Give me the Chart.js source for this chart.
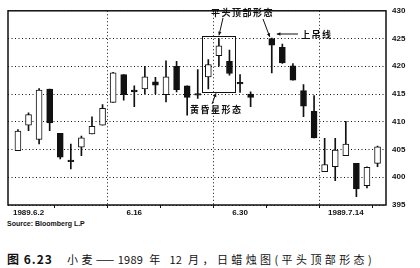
<!DOCTYPE html>
<html>
<head>
<meta charset="utf-8">
<title>小麦 1989年12月 日蜡烛图</title>
<script src="https://cdn.jsdelivr.net/npm/chart.js@4.4.0/dist/chart.umd.min.js"></script>
<style>
    body { margin: 0; background: #fff; width: 420px; height: 268px; overflow: hidden; position: relative; }
    .box { position: absolute; left: 0; top: 0; width: 420px; height: 216px; }
    .source { position: absolute; left: 7px; top: 220px; font: bold 7px "Liberation Sans", Arial, sans-serif; color: #111; }
    .fig { position: absolute; left: 7px; top: 250px; font: bold 12px "Noto Sans CJK SC", sans-serif; color: #111; letter-spacing: 1px; white-space: nowrap; }
    .caption { position: absolute; left: 67px; top: 251px; font: 11px "Noto Sans CJK SC", sans-serif; color: #111; letter-spacing: 3.4px; white-space: nowrap; }
    .caption span { letter-spacing: 0.3px; }
</style>
</head>
<body>
<div class="box"><canvas id="myChart" width="420" height="216"></canvas></div>
<div class="source">Source: Bloomberg L.P</div>
<div class="fig">图 6.23</div>
<div class="caption">小麦——<span>1989</span> 年 <span>12</span> 月，日蜡烛图(平头顶部形态)</div>
<script>
    // trading days, 7.4 is an empty slot (holiday)
    var dates = ['6.1','6.2','6.5','6.6','6.7','6.8','6.9','6.12','6.13','6.14','6.15','6.16',
        '6.19','6.20','6.21','6.22','6.23','6.26','6.27','6.28','6.29','6.30',
        '7.3','7.4','7.5','7.6','7.7','7.10','7.11','7.12','7.13','7.14','7.17','7.18','7.19'];
    var open  = [404.8,409.4,406.8,415.9,407.9,403.1,405.4,407.8,409.4,413.5,418.5,415.7,
        415.9,417.2,414.9,420.0,416.5,415.1,418.1,421.9,420.9,417.1,
        415.0,null,425.0,423.4,420.1,415.6,411.9,401.0,401.9,403.9,402.5,398.5,402.5];
    var high  = [408.6,411.6,416.0,415.9,407.9,406.0,407.4,410.9,413.1,418.9,418.5,416.5,
        420.0,418.0,421.0,420.9,416.5,419.4,421.2,425.0,422.9,418.5,
        415.4,null,425.1,424.0,420.5,416.7,414.7,407.0,407.0,410.1,402.5,401.9,405.6];
    var low   = [404.8,408.4,406.0,408.4,403.3,401.5,403.9,407.8,409.4,413.5,413.9,412.7,
        415.0,415.0,413.6,415.4,411.2,414.2,415.9,420.0,418.4,415.3,
        412.7,null,418.8,420.5,417.5,410.9,407.1,401.0,399.4,403.9,396.5,398.1,401.9];
    var close = [408.3,411.3,415.7,409.8,403.6,402.8,407.1,409.2,412.4,418.8,414.9,415.4,
        418.1,416.6,418.1,415.8,414.4,414.8,420.3,423.7,418.7,416.8,
        414.4,null,423.8,420.6,417.5,412.8,407.1,402.3,404.9,406.0,397.9,401.8,405.5];

    var tickDates = ['6.2','6.16','6.30','7.14'];
    var tickText = ['1989.6.2','6.16','6.30','1989.7.14'];
    var yTicks = [395, 400, 405, 410, 415, 420, 425, 430];

    var bodies = [], wicks = [], up = [];
    for (var i = 0; i < dates.length; i++) {
        if (open[i] === null) continue;
        bodies.push({x: i, y: [open[i], close[i]]});
        wicks.push({x: i, y: [low[i], high[i]]});
        up.push(close[i] >= open[i]);
    }

    var labelAt = {};
    tickDates.forEach(function (d, k) { labelAt[dates.indexOf(d)] = tickText[k]; });
    var minorTicks = [];
    for (var t = dates.indexOf('6.2'); t < dates.length; t += 5) minorTicks.push(t);

    var black = '#111';

    var notes = {
        id: 'notes',
        afterDraw: function (chart) {
            var ctx = chart.ctx, a = chart.chartArea;
            var xs = chart.scales.x, ys = chart.scales.y;
            ctx.save();
            // frame
            ctx.strokeStyle = black;
            ctx.lineWidth = 1.5;
            ctx.strokeRect(a.left, a.top, a.right - a.left, a.bottom - a.top);

            // box round the evening star
            var bx1 = xs.getPixelForValue(17.45), bx2 = xs.getPixelForValue(20.6);
            var by1 = ys.getPixelForValue(425.4), by2 = ys.getPixelForValue(415.3);
            ctx.lineWidth = 1;
            ctx.strokeRect(Math.round(bx1) + 0.5, Math.round(by1) + 0.5, Math.round(bx2 - bx1), Math.round(by2 - by1));

            function arrow(x1, y1, x2, y2) {
                ctx.beginPath();
                ctx.moveTo(x1, y1);
                ctx.lineTo(x2, y2);
                ctx.stroke();
                var ang = Math.atan2(y2 - y1, x2 - x1);
                ctx.beginPath();
                ctx.moveTo(x2, y2);
                ctx.lineTo(x2 - 4 * Math.cos(ang - 0.45), y2 - 4 * Math.sin(ang - 0.45));
                ctx.lineTo(x2 - 4 * Math.cos(ang + 0.45), y2 - 4 * Math.sin(ang + 0.45));
                ctx.closePath();
                ctx.fill();
            }

            ctx.fillStyle = black;
            ctx.font = 'bold 9px "Noto Sans CJK SC"';
            ctx.letterSpacing = '1.5px';
            ctx.textBaseline = 'middle';
            ctx.textAlign = 'left';
            ctx.fillText('平头顶部形态', 211, 13);
            ctx.fillText('上吊线', 301, 35);
            ctx.fillText('黄昏星形态', 190, 110);

            var hx = xs.getPixelForValue(24);
            arrow(223, 18, 219, by1 - 1);
            arrow(263, 19, hx - 2, ys.getPixelForValue(425.3));
            arrow(298, 34, hx + 5, 34);
            arrow(212, 104, 216, by2 + 1);
            ctx.restore();
        }
    };

    function createChart() {
        var ctx = document.getElementById('myChart').getContext('2d');
        var myChart = new Chart(ctx, {
            type: 'bar',
            data: {
                datasets: [
                    {
                        label: 'body',
                        data: bodies,
                        order: 0,
                        barThickness: 6,
                        grouped: false,
                        borderSkipped: false,
                        borderWidth: 1,
                        borderColor: black,
                        backgroundColor: function (c) { return up[c.dataIndex] ? '#fff' : black; }
                    },
                    {
                        label: 'wick',
                        data: wicks,
                        order: 1,
                        barThickness: 1,
                        grouped: false,
                        borderWidth: 0,
                        backgroundColor: black
                    }
                ]
            },
            options: {
                responsive: false,
                animation: false,
                layout: { padding: { left: 8, top: 3, right: 0, bottom: 0 } },
                plugins: { legend: { display: false }, tooltip: { enabled: false } },
                scales: {
                    x: {
                        type: 'linear',
                        min: -0.94,
                        max: 34.8,
                        offset: false,
                        afterBuildTicks: function (s) {
                            s.ticks = minorTicks.map(function (v) { return {value: v}; });
                        },
                        afterFit: function (s) { s.height = 11; },
                        ticks: {
                            autoSkip: false,
                            maxRotation: 0,
                            padding: 0,
                            color: black,
                            font: { family: '"Liberation Sans"', size: 8, weight: 'bold' },
                            callback: function (v) { return labelAt[v] || ''; }
                        },
                        grid: {
                            color: function (c) { return c.tick && labelAt[c.tick.value] ? black : 'rgba(0,0,0,0)'; },
                            tickColor: black,
                            tickLength: 3,
                            lineWidth: 1
                        },
                        border: { display: false, dash: [1, 2.5] }
                    },
                    y: {
                        position: 'right',
                        min: 395,
                        max: 430,
                        afterBuildTicks: function (s) {
                            s.ticks = yTicks.map(function (v) { return {value: v}; });
                        },
                        afterFit: function (s) { s.width = 34; },
                        ticks: {
                            padding: 6,
                            color: black,
                            font: { family: '"Liberation Sans"', size: 8, weight: 'bold' }
                        },
                        grid: { color: black, lineWidth: 1, drawTicks: false },
                        border: { display: false, dash: [1, 2.5] }
                    }
                }
            },
            plugins: [notes]
        });
    }
    createChart();
</script>
</body>
</html>
